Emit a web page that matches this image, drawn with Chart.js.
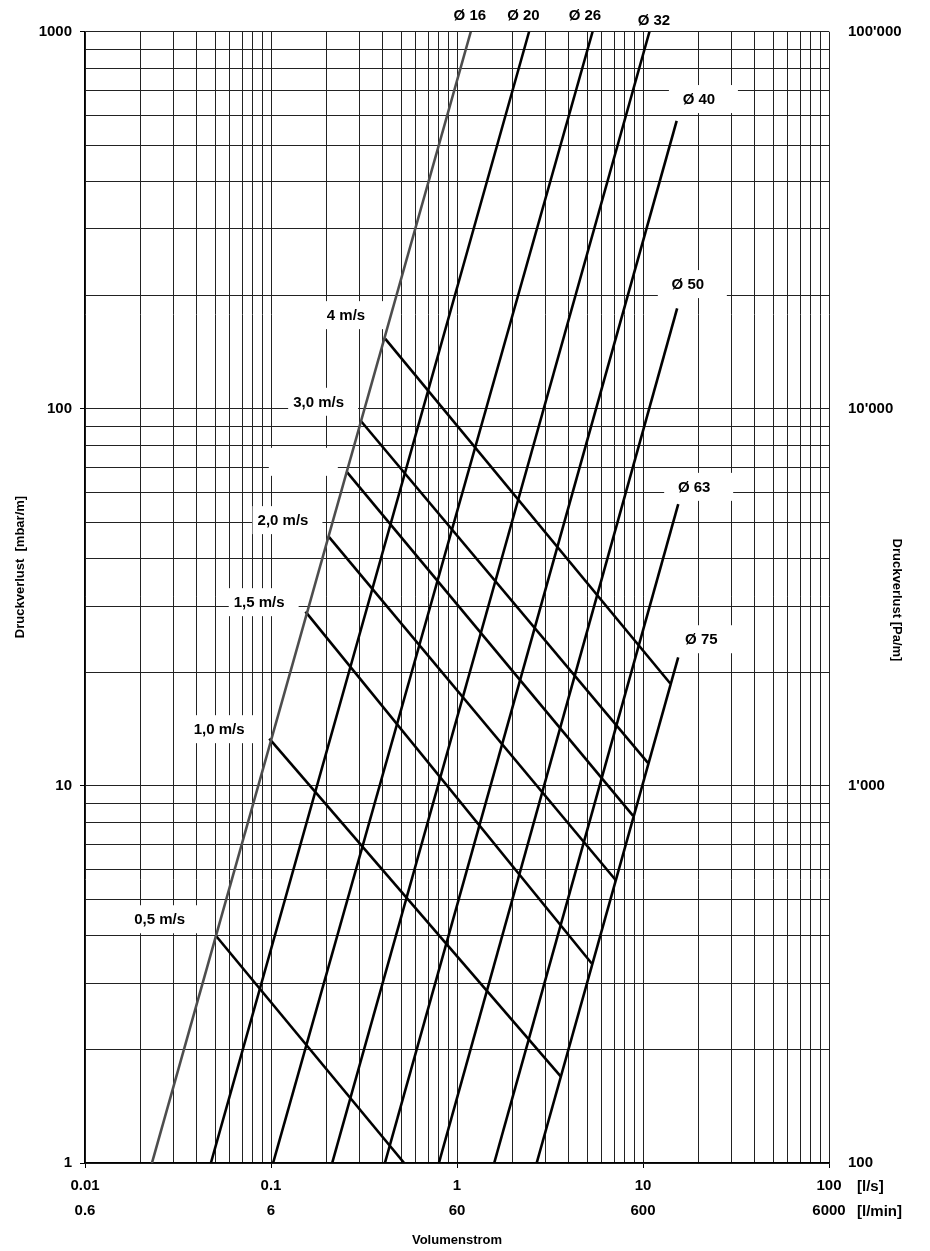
<!DOCTYPE html>
<html>
<head>
<meta charset="utf-8">
<script src="https://cdn.jsdelivr.net/npm/chart.js@4.4.1/dist/chart.umd.min.js"></script>
<style>
    html, body { margin: 0; padding: 0; background: #fff; }
    #druckverlust_chart { display: block; }
</style>
</head>
<body>
<canvas id="druckverlust_chart" width="930" height="1251"></canvas>
<script>
// axis ticks
const flow_decades = [0.01, 0.1, 1, 10, 100];
const flow_labels_ls = ['0.01', '0.1', '1', '10', '100'];
const flow_labels_lmin = ['0.6', '6', '60', '600', '6000'];
const pressure_decades = [1, 10, 100, 1000];
const pressure_labels_mbar = ['1', '10', '100', '1000'];
const pressure_decades_pa = [100, 1000, 10000, 100000];
const pressure_labels_pa = ['100', "1'000", "10'000", "100'000"];
const minor_steps = [1, 2, 3, 4, 5, 6, 7, 8, 9];

// pipe diameters (l/s, mbar/m)
const diameter_names = ['Ø 16', 'Ø 20', 'Ø 26', 'Ø 32', 'Ø 40', 'Ø 50', 'Ø 63', 'Ø 75'];
const diameter_start_x = [0.0229, 0.0475, 0.1026, 0.2132, 0.4095, 0.799, 1.585, 2.681];
const diameter_start_y = [1, 1, 1, 1, 1, 1, 1, 1];
const diameter_end_x = [1.186, 2.44, 5.356, 10.83, 15.17, 15.26, 15.47, 15.46];
const diameter_end_y = [1000, 1000, 1000, 1000, 580.5, 184.6, 55.87, 21.91];
const diameter_label_x = [1.172, 2.275, 4.873, 11.45, 19.98, 17.42, 18.84, 20.58];
const diameter_label_y = [1107, 1107, 1107, 1074, 663, 214.2, 62.1, 24.49];

// flow velocities
const velocity_names = ['4 m/s', '3,0 m/s', '', '2,0 m/s', '1,5 m/s', '1,0 m/s', '0,5 m/s'];
const velocity_start_x = [0.4107, 0.3035, 0.2549, 0.2032, 0.1532, 0.0979, 0.0503];
const velocity_start_y = [153.5, 93.0, 68.15, 45.95, 28.98, 13.34, 4.018];
const velocity_end_x = [14.02, 10.63, 8.85, 7.143, 5.303, 3.61, 0.52];
const velocity_end_y = [18.69, 11.51, 8.325, 5.622, 3.38, 1.698, 1];
const velocity_label_x = [0.253, 0.1802, 0.1411, 0.1160, 0.0864, 0.0526, 0.0252];
const velocity_label_y = [177.2, 104.4, 72.35, 50.68, 30.71, 14.14, 4.43];

const FONT = '"Liberation Sans", Arial, Helvetica, sans-serif';
Chart.defaults.font.family = FONT;
Chart.defaults.color = '#000';

function isDecade(v) {
    const l = Math.log10(v);
    return Math.abs(l - Math.round(l)) < 1e-6;
}

function gridValues(decades) {
    const values = [];
    for (let i = 0; i < decades.length - 1; i++) {
        for (const s of minor_steps) {
            values.push(s * decades[i]);
        }
    }
    values.push(decades[decades.length - 1]);
    return values;
}

function decadeIndex(list, value) {
    for (let i = 0; i < list.length; i++) {
        if (Math.abs(list[i] - value) / list[i] < 1e-6) return i;
    }
    return -1;
}

const datasets = [];
for (let i = 0; i < diameter_names.length; i++) {
    datasets.push({
        label: diameter_names[i],
        data: [{x: diameter_start_x[i], y: diameter_start_y[i]}, {x: diameter_end_x[i], y: diameter_end_y[i]}],
        borderColor: i === 0 ? '#4d4d4d' : '#000',
        borderWidth: 2.6,
    });
}
for (let i = 0; i < velocity_names.length; i++) {
    datasets.push({
        label: velocity_names[i] || '2,5 m/s',
        data: [{x: velocity_start_x[i], y: velocity_start_y[i]}, {x: velocity_end_x[i], y: velocity_end_y[i]}],
        borderColor: '#000',
        borderWidth: 2.6,
    });
}

const curveLabels = {
    id: 'curveLabels',
    beforeDatasetsDraw(chart) {
        const ctx = chart.ctx;
        const xs = chart.scales.x;
        const ys = chart.scales.y;
        const items = [];
        for (let i = 0; i < diameter_names.length; i++) {
            items.push([diameter_names[i], diameter_label_x[i], diameter_label_y[i]]);
        }
        for (let i = 0; i < velocity_names.length; i++) {
            items.push([velocity_names[i], velocity_label_x[i], velocity_label_y[i]]);
        }
        ctx.save();
        ctx.font = 'bold 15px ' + FONT;
        ctx.textAlign = 'center';
        ctx.textBaseline = 'middle';
        for (const [text, x, y] of items) {
            const px = xs.getPixelForValue(x);
            const py = ys.getPixelForValue(y);
            const tw = Math.max(ctx.measureText(text).width, 50);
            if (y < 1000) {
                ctx.fillStyle = '#fff';
                ctx.fillRect(px - tw / 2 - 5, py - 14, tw + 19, 28);
            }
            ctx.fillStyle = '#000';
            ctx.fillText(text, px, py + 1);
        }
        ctx.restore();
    },
    afterDraw(chart) {
        const ctx = chart.ctx;
        const area = chart.chartArea;
        ctx.save();
        ctx.fillStyle = '#000';
        ctx.font = 'bold 13px ' + FONT;
        ctx.textAlign = 'center';
        ctx.textBaseline = 'middle';
        ctx.translate(20, 567);
        ctx.rotate(-Math.PI / 2);
        ctx.fillText('Druckverlust  [mbar/m]', 0, 0);
        ctx.restore();

        ctx.save();
        ctx.fillStyle = '#000';
        ctx.font = 'bold 13px ' + FONT;
        ctx.textAlign = 'center';
        ctx.textBaseline = 'middle';
        ctx.translate(897, 600);
        ctx.rotate(Math.PI / 2);
        ctx.fillText('Druckverlust [Pa/m]', 0, 0);
        ctx.restore();

        ctx.save();
        ctx.fillStyle = '#000';
        ctx.font = 'bold 15px ' + FONT;
        ctx.textAlign = 'left';
        ctx.textBaseline = 'middle';
        ctx.fillText('[l/s]', area.right + 28, area.bottom + 24);
        ctx.fillText('[l/min]', area.right + 28, area.bottom + 49);
        ctx.restore();
    }
};

const tickFont = {family: FONT, size: 15, weight: 'bold', lineHeight: 1.7};
const gridColor = '#222';

const config = {
    type: 'scatter',
    data: {datasets: datasets},
    options: {
        responsive: false,
        animation: false,
        showLine: true,
        elements: {
            point: {radius: 0, hoverRadius: 0},
            line: {tension: 0, borderCapStyle: 'butt', fill: false}
        },
        layout: {padding: {top: 31, left: 0, right: 0, bottom: 0}},
        plugins: {
            legend: {display: false},
            tooltip: {enabled: false}
        },
        scales: {
            x: {
                type: 'logarithmic',
                position: 'bottom',
                min: 0.01, max: 100,
                afterBuildTicks: (scale) => {
                    scale.ticks = gridValues(flow_decades).map(v => ({value: v}));
                },
                afterFit: (scale) => { scale.height = 88; },
                ticks: {
                    autoSkip: false, maxRotation: 0, minRotation: 0,
                    padding: 5,
                    font: tickFont,
                    callback: (value) => {
                        const i = decadeIndex(flow_decades, value);
                        return i >= 0 ? [flow_labels_ls[i], flow_labels_lmin[i]] : '';
                    }
                },
                grid: {
                    color: gridColor, lineWidth: 1,
                    drawTicks: true, tickLength: 5,
                    tickColor: (c) => (c.tick && isDecade(c.tick.value)) ? '#000' : 'rgba(0,0,0,0)'
                },
                border: {display: true, color: '#000', width: 1.2},
                title: {
                    display: true, text: 'Volumenstrom',
                    font: {family: FONT, size: 13, weight: 'bold'},
                    padding: {top: 0, bottom: 3}
                }
            },
            y: {
                type: 'logarithmic',
                position: 'left',
                min: 1, max: 1000,
                afterBuildTicks: (scale) => {
                    scale.ticks = gridValues(pressure_decades).map(v => ({value: v}));
                },
                afterFit: (scale) => { scale.width = 85; },
                ticks: {
                    autoSkip: false, padding: 8,
                    font: tickFont,
                    callback: (value) => {
                        const i = decadeIndex(pressure_decades, value);
                        return i >= 0 ? pressure_labels_mbar[i] : '';
                    }
                },
                grid: {
                    color: gridColor, lineWidth: 1,
                    drawTicks: true, tickLength: 5,
                    tickColor: (c) => (c.tick && isDecade(c.tick.value)) ? '#000' : 'rgba(0,0,0,0)'
                },
                border: {display: true, color: '#000', width: 1.2}
            },
            y2: {
                type: 'logarithmic',
                position: 'right',
                min: 100, max: 100000,
                afterBuildTicks: (scale) => {
                    scale.ticks = pressure_decades_pa.map(v => ({value: v}));
                },
                afterFit: (scale) => { scale.width = 101; },
                ticks: {
                    autoSkip: false, padding: 19,
                    font: tickFont,
                    callback: (value) => {
                        const i = decadeIndex(pressure_decades_pa, value);
                        return i >= 0 ? pressure_labels_pa[i] : '';
                    }
                },
                grid: {display: false, drawTicks: false, tickLength: 0},
                border: {display: false}
            }
        }
    },
    plugins: [curveLabels]
};

const myChart = new Chart(document.getElementById('druckverlust_chart'), config);
</script>
</body>
</html>
